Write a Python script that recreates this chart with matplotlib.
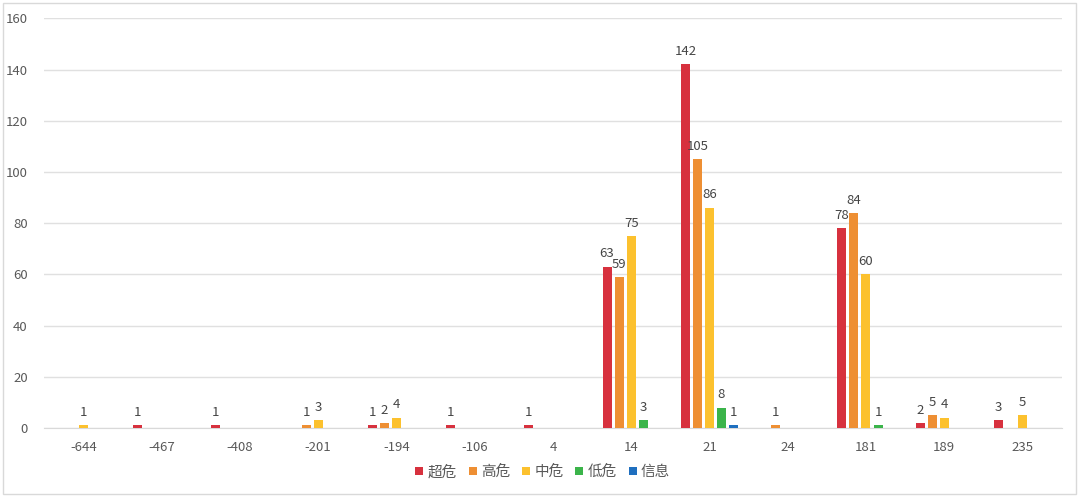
import numpy as np
import matplotlib.pyplot as plt
from matplotlib.patches import Rectangle

plt.rcParams['font.family'] = ['Noto Sans CJK SC', 'DejaVu Sans']

categories = ['-644', '-467', '-408', '-201', '-194', '-106', '4', '14', '21', '24', '181', '189', '235']
series = ['超危', '高危', '中危', '低危', '信息']
colors = ['#d7313e', '#ee8f33', '#fcc12e', '#3bb44a', '#1f6fbf']

critical = [0, 1, 1, 0, 1, 1, 1, 63, 142, 0, 78, 2, 3]
high = [0, 0, 0, 1, 2, 0, 0, 59, 105, 1, 84, 5, 0]
medium = [1, 0, 0, 3, 4, 0, 0, 75, 86, 0, 60, 4, 5]
low = [0, 0, 0, 0, 0, 0, 0, 3, 8, 0, 1, 0, 0]
info = [0, 0, 0, 0, 0, 0, 0, 0, 1, 0, 0, 0, 0]
values = [critical, high, medium, low, info]

fig = plt.figure(figsize=(10.8, 4.96), dpi=100)
ax = fig.add_axes([0.041, 0.137, 0.942, 0.826])
fig.patches.append(Rectangle((0.003, 0.004), 0.993, 0.99, transform=fig.transFigure,
                             fill=False, edgecolor='#d9d9d9', linewidth=1))

x = np.arange(len(categories))
pitch = 0.154
width = 0.115
for i, (name, vals, c) in enumerate(zip(series, values, colors)):
    pos = x + (i - 2) * pitch
    ax.bar(pos, vals, width=width, color=c, label=name, zorder=3)
    for p, v in zip(pos, vals):
        if v > 0:
            ax.text(p, v + 2.5, str(v), ha='center', va='bottom', fontsize=9.5,
                    color='#454545', fontweight='medium', zorder=4)

ax.set_xlim(-0.5, len(categories) - 0.5)
ax.set_ylim(0, 160)
ax.set_yticks(range(0, 161, 20))
ax.set_xticks(x)
ax.set_xticklabels(categories)
ax.yaxis.grid(True, color='#e0e0e0', linewidth=1, zorder=0)
for s in ['top', 'right', 'left']:
    ax.spines[s].set_visible(False)
ax.spines['bottom'].set_color('#d9d9d9')
ax.tick_params(axis='both', length=0, labelsize=9.5, colors='#595959')
ax.tick_params(axis='x', pad=9)
ax.tick_params(axis='y', pad=12)

leg = ax.legend(loc='center', bbox_to_anchor=(0.49, -0.107), ncol=5, frameon=False,
                fontsize=10.5, handlelength=0.55, handleheight=0.55, handletextpad=0.3,
                columnspacing=0.8)
for t in leg.get_texts():
    t.set_color('#595959')

fig.savefig('out.png', dpi=100)
